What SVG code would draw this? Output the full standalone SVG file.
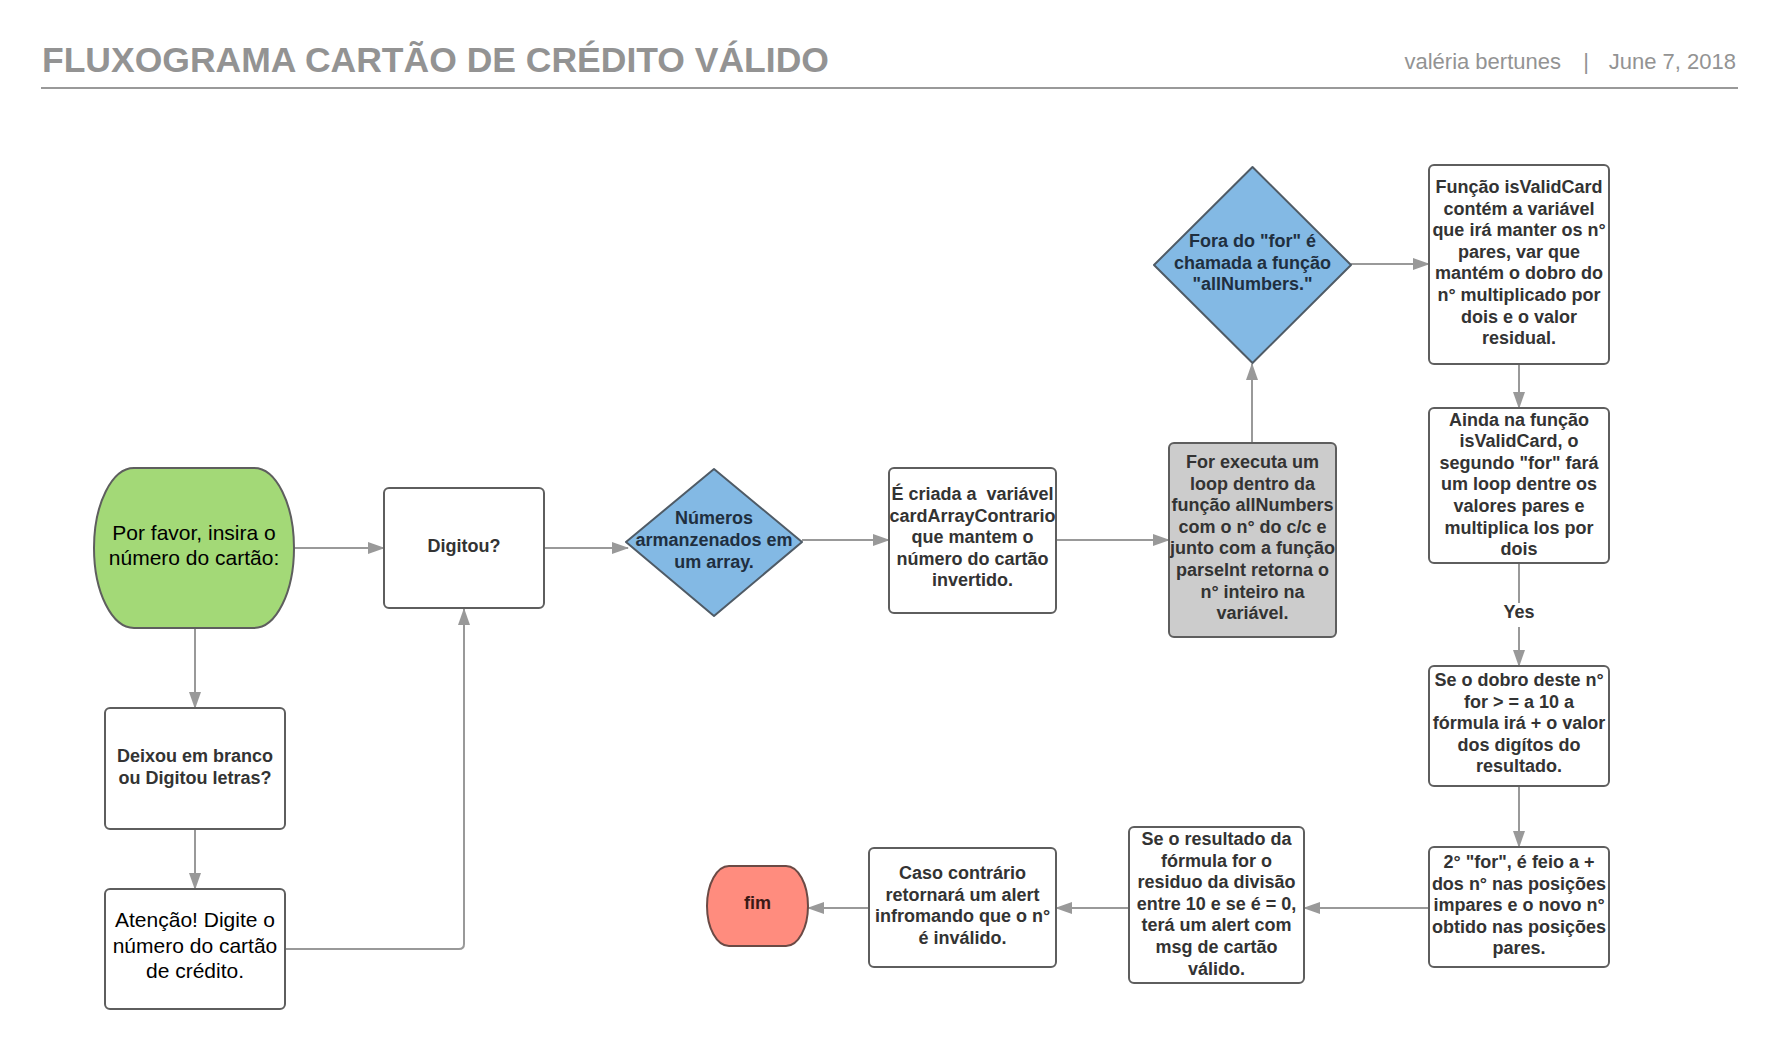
<svg xmlns="http://www.w3.org/2000/svg" width="1777" height="1048" viewBox="0 0 1777 1048">
<defs>
<style>
.bg{fill:#ffffff}
.hdr{font-family:"Liberation Sans",Arial,sans-serif;fill:#939393}
.box{fill:#ffffff;stroke:#5e5e5e;stroke-width:2}
.gray{fill:#cccccc;stroke:#5e5e5e;stroke-width:2}
.dia{fill:#83b9e4;stroke:#4f5b66;stroke-width:2;stroke-linejoin:round}
.start{fill:#a3d977;stroke:#5e5e5e;stroke-width:2}
.end{fill:#ff8c7e;stroke:#6b4a45;stroke-width:2}
.b{font-family:"Liberation Sans",Arial,sans-serif;font-weight:bold;font-size:18px;fill:#333333;text-anchor:middle}
.bd{font-family:"Liberation Sans",Arial,sans-serif;font-weight:bold;font-size:18px;fill:#1f2f40;text-anchor:middle}
.r{font-family:"Liberation Sans",Arial,sans-serif;font-size:21px;fill:#000000;text-anchor:middle}
.c{fill:none;stroke:#999999;stroke-width:2}
</style>
<marker id="ah" markerUnits="userSpaceOnUse" markerWidth="17" markerHeight="12" refX="16" refY="6" orient="auto">
<path d="M0,0 L17,6 L0,12 z" fill="#999999"/>
</marker>
</defs>
<rect class="bg" x="0" y="0" width="1777" height="1048"/>

<g id="header">
<text class="hdr" x="42" y="72" font-size="35.5" font-weight="bold">FLUXOGRAMA CARTÃO DE CRÉDITO VÁLIDO</text>
<text class="hdr" x="1561" y="69" font-size="22" text-anchor="end">valéria bertunes</text>
<text class="hdr" x="1586" y="69" font-size="22" text-anchor="middle">|</text>
<text class="hdr" x="1736" y="69" font-size="22" text-anchor="end">June 7, 2018</text>
<line x1="41" y1="88" x2="1738" y2="88" stroke="#999999" stroke-width="2"/>
</g>

<g id="connectors">
<path class="c" d="M294,548 L384,548" marker-end="url(#ah)"/>
<path class="c" d="M195,628 L195,708" marker-end="url(#ah)"/>
<path class="c" d="M195,829 L195,889" marker-end="url(#ah)"/>
<path class="c" d="M285,949 L459,949 Q464,949 464,944 L464,609" marker-end="url(#ah)"/>
<path class="c" d="M544,548 L628,548" marker-end="url(#ah)"/>
<path class="c" d="M802,540 L889,540" marker-end="url(#ah)"/>
<path class="c" d="M1056,540 L1169,540" marker-end="url(#ah)"/>
<path class="c" d="M1252,443 L1252,364" marker-end="url(#ah)"/>
<path class="c" d="M1351,264 L1429,264" marker-end="url(#ah)"/>
<path class="c" d="M1519,364 L1519,408" marker-end="url(#ah)"/>
<path class="c" d="M1519,563 L1519,603"/>
<path class="c" d="M1519,627 L1519,666" marker-end="url(#ah)"/>
<text class="b" x="1519" y="618">Yes</text>
<path class="c" d="M1519,786 L1519,847" marker-end="url(#ah)"/>
<path class="c" d="M1429,908 L1304,908" marker-end="url(#ah)"/>
<path class="c" d="M1129,908 L1056,908" marker-end="url(#ah)"/>
<path class="c" d="M869,908 L808,908" marker-end="url(#ah)"/>
</g>

<g id="n-start">
<rect class="start" x="94" y="468" width="200" height="160" rx="40" ry="80"/>
<text class="r" x="194" y="540">Por favor, insira o</text>
<text class="r" x="194" y="565">número do cartão:</text>
</g>

<g id="n-digitou">
<rect class="box" x="384" y="488" width="160" height="120" rx="5"/>
<text class="b" x="464" y="552">Digitou?</text>
</g>

<g id="n-deixou">
<rect class="box" x="105" y="708" width="180" height="121" rx="5"/>
<text class="b" x="195" y="762">Deixou em branco</text>
<text class="b" x="195" y="784">ou Digitou letras?</text>
</g>

<g id="n-atencao">
<rect class="box" x="105" y="889" width="180" height="120" rx="5"/>
<text class="r" x="195" y="927">Atenção! Digite o</text>
<text class="r" x="195" y="952.5">número do cartão</text>
<text class="r" x="195" y="978">de crédito.</text>
</g>

<g id="n-numeros">
<polygon class="dia" points="714,469 802,542 714,616 626,542"/>
<text class="bd" x="714" y="524">Números</text>
<text class="bd" x="714" y="546">armanzenados em</text>
<text class="bd" x="714" y="568">um array.</text>
</g>

<g id="n-criada">
<rect class="box" x="889" y="468" width="167" height="145" rx="5"/>
<text class="b" x="972.5" y="500" xml:space="preserve" style="white-space:pre">É criada a  variável</text>
<text class="b" x="972.5" y="521.6">cardArrayContrario</text>
<text class="b" x="972.5" y="543.2">que mantem o</text>
<text class="b" x="972.5" y="564.8">número do cartão</text>
<text class="b" x="972.5" y="586.4">invertido.</text>
</g>

<g id="n-for">
<rect class="gray" x="1169" y="443" width="167" height="194" rx="5"/>
<text class="b" x="1252.5" y="468">For executa um</text>
<text class="b" x="1252.5" y="489.6">loop dentro da</text>
<text class="b" x="1252.5" y="511.2">função allNumbers</text>
<text class="b" x="1252.5" y="532.8">com o n° do c/c e</text>
<text class="b" x="1252.5" y="554.4">junto com a função</text>
<text class="b" x="1252.5" y="576">parseInt retorna o</text>
<text class="b" x="1252.5" y="597.6">n° inteiro na</text>
<text class="b" x="1252.5" y="619.2">variável.</text>
</g>

<g id="n-fora">
<polygon class="dia" points="1252.5,167 1351,265 1252.5,363 1154,265"/>
<text class="bd" x="1252.5" y="247">Fora do "for" é</text>
<text class="bd" x="1252.5" y="268.6">chamada a função</text>
<text class="bd" x="1252.5" y="290.2">"allNumbers."</text>
</g>

<g id="n-funcao">
<rect class="box" x="1429" y="165" width="180" height="199" rx="5"/>
<text class="b" x="1519" y="193">Função isValidCard</text>
<text class="b" x="1519" y="214.6">contém a variável</text>
<text class="b" x="1519" y="236.2">que irá manter os n°</text>
<text class="b" x="1519" y="257.8">pares, var que</text>
<text class="b" x="1519" y="279.4">mantém o dobro do</text>
<text class="b" x="1519" y="301">n° multiplicado por</text>
<text class="b" x="1519" y="322.6">dois e o valor</text>
<text class="b" x="1519" y="344.2">residual.</text>
</g>

<g id="n-ainda">
<rect class="box" x="1429" y="408" width="180" height="155" rx="5"/>
<text class="b" x="1519" y="425.5">Ainda na função</text>
<text class="b" x="1519" y="447.1">isValidCard, o</text>
<text class="b" x="1519" y="468.7">segundo "for" fará</text>
<text class="b" x="1519" y="490.3">um loop dentre os</text>
<text class="b" x="1519" y="511.9">valores pares e</text>
<text class="b" x="1519" y="533.5">multiplica los por</text>
<text class="b" x="1519" y="555.1">dois</text>
</g>

<g id="n-dobro">
<rect class="box" x="1429" y="666" width="180" height="120" rx="5"/>
<text class="b" x="1519" y="686">Se o dobro deste n°</text>
<text class="b" x="1519" y="707.6">for &gt; = a 10 a</text>
<text class="b" x="1519" y="729.2">fórmula irá + o valor</text>
<text class="b" x="1519" y="750.8">dos digítos do</text>
<text class="b" x="1519" y="772.4">resultado.</text>
</g>

<g id="n-segundo">
<rect class="box" x="1429" y="847" width="180" height="120" rx="5"/>
<text class="b" x="1519" y="868">2° "for", é feio a +</text>
<text class="b" x="1519" y="889.6">dos n° nas posições</text>
<text class="b" x="1519" y="911.2">impares e o novo n°</text>
<text class="b" x="1519" y="932.8">obtido nas posições</text>
<text class="b" x="1519" y="954.4">pares.</text>
</g>

<g id="n-resultado">
<rect class="box" x="1129" y="827" width="175" height="156" rx="5"/>
<text class="b" x="1216.5" y="845">Se o resultado da</text>
<text class="b" x="1216.5" y="866.6">fórmula for o</text>
<text class="b" x="1216.5" y="888.2">residuo da divisão</text>
<text class="b" x="1216.5" y="909.8">entre 10 e se é = 0,</text>
<text class="b" x="1216.5" y="931.4">terá um alert com</text>
<text class="b" x="1216.5" y="953">msg de cartão</text>
<text class="b" x="1216.5" y="974.6">válido.</text>
</g>

<g id="n-caso">
<rect class="box" x="869" y="848" width="187" height="119" rx="5"/>
<text class="b" x="962.5" y="879">Caso contrário</text>
<text class="b" x="962.5" y="900.6">retornará um alert</text>
<text class="b" x="962.5" y="922.2">infromando que o n°</text>
<text class="b" x="962.5" y="943.8">é inválido.</text>
</g>

<g id="n-fim">
<rect class="end" x="707" y="866" width="101" height="80" rx="22" ry="40"/>
<text class="b" x="757.5" y="909" style="fill:#3a1a16">fim</text>
</g>
</svg>
